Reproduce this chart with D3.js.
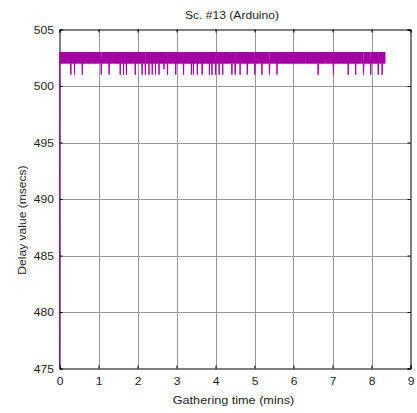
<!DOCTYPE html>
<html>
<head>
<meta charset="utf-8">
<script src="https://cdn.jsdelivr.net/npm/d3@7"></script>
<style>
  html, body { margin: 0; padding: 0; background: #fff; }
  svg { display: block; font-family: "Liberation Sans", Arial, sans-serif; }
</style>
</head>
<body>
<svg id="chart" width="417" height="413"></svg>
<script>
// Delay readings, one character per sample (see delayCode for the msec value of each character)
const delayRows = [
  "0323232323 2323232323 2332323232 2323213232 2323231323 2323232332 3232323232 1323232323 2323323232 3232323232",
  "2323232323 2323232332 3232323212 3232323232 2323232323 2313232323 2323322323 2323232323 2323231323 2323231323",
  "2323213232 3232323232 3232332323 2313232323 2323232323 2321232323 2321232323 2323132323 2323132323 2323132323",
  "2323213232 3232323232 a323232323 2132323232 3232332323 2323231323 2323232323 2332323232 1323232323 2323232323",
  "2323132323 1323232323 2313232323 2323232132 3232323232 3232323231 3232323132 3232323213 2323232321 3232323232",
  "1323232323 2323232323 2332323212 3232323212 3232323232 3231323232 3232323232 3232313232 3232323232 3232323212",
  "3232323232 3232332323 1323232323 2323232323 2321232323 2323232323 2323231323 2323232323 2332323232 3232323232",
  "3232323232 3232323232 3232332323 2323232323 2323232323 2323323232 3232323232 3232323232 3232323232 3212323232",
  "3232323232 3232332323 2323232323 2323232321 3232323232 3232323232 3233232323 2323232323 2323132323 2323232323",
  "2323232132 3232323232 3232332323 2123232323 2323232323 2321232323 2323323232 3232321232 3232323212 32323232"
];
const delayCode = { "0": 475, "1": 501, "a": 501.5, "2": 502, "3": 503 };

const xTicks = [0, 1, 2, 3, 4, 5, 6, 7, 8, 9];
const yTicks = [475, 480, 485, 490, 495, 500, 505];
const titleText = "Sc. #13 (Arduino)";
const xLabelText = "Gathering time (mins)";
const yLabelText = "Delay value (msecs)";

// Decode the samples; gathering time is the running total of the delays
const delays = delayRows.join("").replace(/ /g, "").split("").map(c => delayCode[c]);
let elapsed = 0;
const series = delays.map(d => {
  const p = { t: elapsed / 60000, v: d };
  elapsed += d;
  return p;
});

const svg = d3.select("#chart");
const L = 59.5, R = 410.5, T = 29.5, B = 368.5;
const textColor = "#1e1e1e";

const x = d3.scaleLinear().domain([0, 9]).range([L, R]);
const y = d3.scaleLinear().domain([475, 505]).range([B, T]);

// grid
const grid = svg.append("g").attr("stroke", "#979797").attr("stroke-width", 1);
grid.selectAll("line.gx").data(xTicks.slice(1, -1)).join("line")
  .attr("x1", d => Math.round(x(d)) + 0.5).attr("x2", d => Math.round(x(d)) + 0.5)
  .attr("y1", T).attr("y2", B);
grid.selectAll("line.gy").data(yTicks.slice(1, -1)).join("line")
  .attr("y1", d => Math.round(y(d)) + 0.5).attr("y2", d => Math.round(y(d)) + 0.5)
  .attr("x1", L).attr("x2", R);

// axes box with inward ticks on every side
const fmt = d3.format("d");
const gx = svg.append("g").attr("transform", `translate(0,${B})`)
  .call(d3.axisBottom(x).tickValues(xTicks).tickSize(-3).tickPadding(9).tickFormat(fmt));
svg.append("g").attr("transform", `translate(0,${T})`)
  .call(d3.axisTop(x).tickValues(xTicks).tickSize(-3).tickFormat(""));
const gy = svg.append("g").attr("transform", `translate(${L},0)`)
  .call(d3.axisLeft(y).tickValues(yTicks).tickSize(-3).tickPadding(5).tickFormat(fmt));
svg.append("g").attr("transform", `translate(${R},0)`)
  .call(d3.axisRight(y).tickValues(yTicks).tickSize(-3).tickFormat(""));

svg.selectAll(".domain").attr("stroke", "#000").attr("stroke-width", 1);
svg.selectAll(".tick line").attr("stroke", "#000");
svg.selectAll(".tick text")
  .attr("fill", textColor)
  .attr("transform", "scale(1.1,1)")
  .style("font-size", "11px")
  .style("font-family", "'Liberation Sans', Arial, sans-serif");

// data line, drawn over the axes box
svg.append("clipPath").attr("id", "plotclip")
  .append("rect").attr("x", L - 1).attr("y", T).attr("width", R - L + 1).attr("height", B - T + 0.5);

const line = d3.line().x(d => x(d.t)).y(d => y(d.v));
svg.append("path")
  .datum(series)
  .attr("clip-path", "url(#plotclip)")
  .attr("fill", "none")
  .attr("stroke", "#a400a4")
  .attr("stroke-width", 1)
  .attr("d", line);

// title and axis labels
svg.append("text")
  .attr("transform", "translate(232,19) scale(1.1,1)")
  .attr("text-anchor", "middle")
  .attr("fill", textColor)
  .style("font-size", "11px")
  .text(titleText);

svg.append("text")
  .attr("transform", "translate(233.5,403.5) scale(1.1,1)")
  .attr("text-anchor", "middle")
  .attr("fill", textColor)
  .style("font-size", "11.5px")
  .text(xLabelText);

svg.append("text")
  .attr("transform", "translate(26,220) rotate(-90) scale(1.05,1)")
  .attr("text-anchor", "middle")
  .attr("fill", textColor)
  .style("font-size", "11.5px")
  .text(yLabelText);
</script>
</body>
</html>
